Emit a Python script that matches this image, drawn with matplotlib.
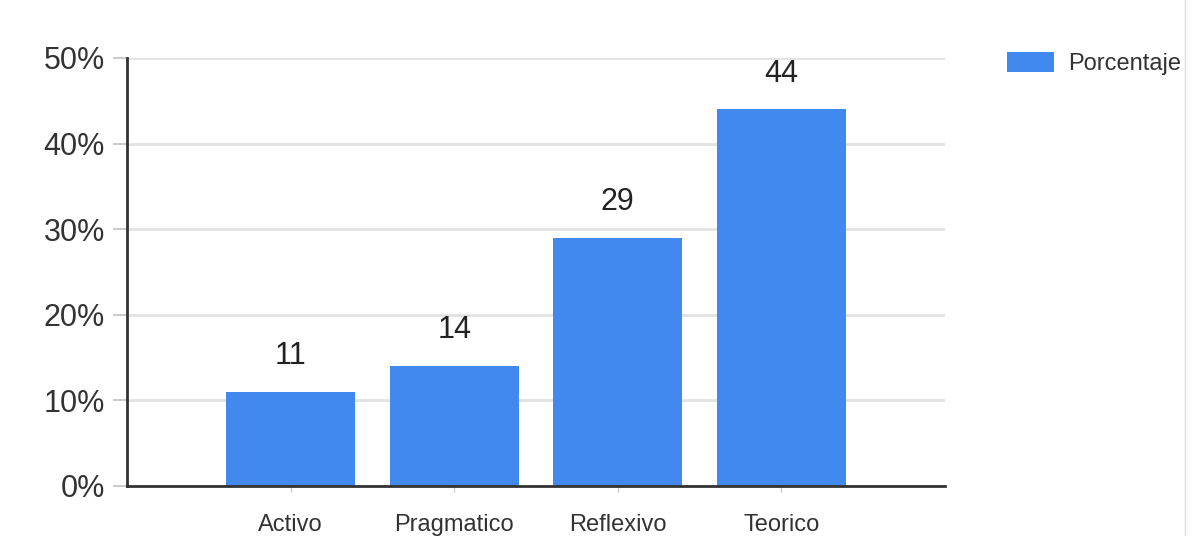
import matplotlib.pyplot as plt
from matplotlib.lines import Line2D

categorias = ["Activo", "Pragmatico", "Reflexivo", "Teorico"]
porcentaje = [11, 14, 29, 44]
yticks = [0, 10, 20, 30, 40, 50]

plt.rcParams['font.family'] = ['Liberation Sans', 'DejaVu Sans']

fig = plt.figure(figsize=(11.99, 5.36), dpi=100)
ax = fig.add_axes([0.1059, 0.0933, 0.6822, 0.7985])

pos = list(range(1, len(categorias) + 1))
bars = ax.bar(pos, porcentaje, width=0.79, color="#4189ee", label="Porcentaje", zorder=3)

for p, v in zip(pos, porcentaje):
    ax.annotate(str(v), (p, v), xytext=(0, 20), textcoords="offset points",
                ha="center", va="baseline", fontsize=22, color="#222222")

ax.set_xlim(0, 5)
ax.set_ylim(0, 50)
ax.set_xticks(pos)
ax.set_xticklabels(categorias, fontsize=17, color="#333333")
ax.set_yticks(yticks)
ax.set_yticklabels([f"{t}%" for t in yticks], fontsize=22, color="#333333")

ax.grid(axis="y", color="#e2e2e2", linewidth=2, zorder=0)
ax.tick_params(axis="y", length=10, width=1.5, color="#cccccc", pad=6)
ax.tick_params(axis="x", length=4, width=1, color="#cccccc", pad=16)

for s in ["top", "right"]:
    ax.spines[s].set_visible(False)
for s in ["left", "bottom"]:
    ax.spines[s].set_color("#333333")
    ax.spines[s].set_linewidth(2)
    ax.spines[s].set_zorder(4)

ax.legend(loc="upper left", bbox_to_anchor=(1.076, 1.013), frameon=False,
          borderaxespad=0, borderpad=0,
          fontsize=17, handlelength=2.0, handleheight=0.9, handletextpad=0.6,
          labelcolor="#333333")

# thin border line at the right of the image
fig.add_artist(Line2D([0.988, 0.988], [0, 1], transform=fig.transFigure,
                      color="#dddddd", linewidth=1))

plt.savefig("out.png", dpi=100)
